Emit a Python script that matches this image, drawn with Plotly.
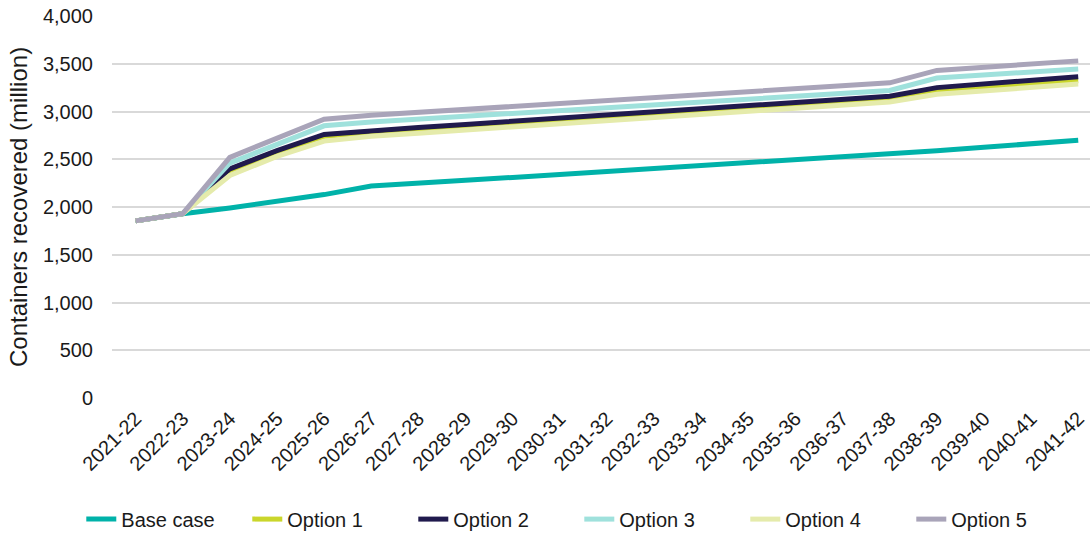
import plotly.graph_objects as go

# Financial years on the category axis
years = ["2021-22", "2022-23", "2023-24", "2024-25", "2025-26", "2026-27", "2027-28",
         "2028-29", "2029-30", "2030-31", "2031-32", "2032-33", "2033-34", "2034-35",
         "2035-36", "2036-37", "2037-38", "2038-39", "2039-40", "2040-41", "2041-42"]

# Containers recovered (million) for each scenario
base_case = [1855, 1930, 1990, 2060, 2130, 2220, 2245, 2280, 2310, 2340, 2370,
             2400, 2430, 2460, 2495, 2530, 2560, 2590, 2625, 2660, 2700]
option_1 = [1855, 1930, 2370, 2570, 2740, 2780, 2813, 2845, 2878, 2911, 2944,
            2976, 3009, 3042, 3075, 3107, 3140, 3225, 3260, 3290, 3322]
option_2 = [1855, 1930, 2400, 2590, 2760, 2800, 2833, 2865, 2898, 2931, 2964,
            2996, 3029, 3062, 3095, 3127, 3160, 3250, 3290, 3325, 3365]
option_3 = [1855, 1930, 2460, 2650, 2850, 2890, 2920, 2950, 2980, 3010, 3040,
            3070, 3100, 3130, 3160, 3190, 3220, 3350, 3380, 3410, 3445]
option_4 = [1855, 1930, 2330, 2530, 2690, 2740, 2773, 2805, 2838, 2871, 2904,
            2936, 2969, 3002, 3035, 3067, 3100, 3180, 3215, 3250, 3288]
option_5 = [1855, 1930, 2520, 2720, 2920, 2960, 2990, 3020, 3055, 3085, 3115,
            3145, 3175, 3205, 3235, 3265, 3300, 3430, 3465, 3495, 3530]

series = [
    ("Base case", base_case, "#00b2a9"),
    ("Option 1", option_1, "#cad62b"),
    ("Option 2", option_2, "#201a4d"),
    ("Option 3", option_3, "#9fe1dc"),
    ("Option 4", option_4, "#e5ebab"),
    ("Option 5", option_5, "#a9a4b9"),
]

FONT = "Liberation Sans, Arial, sans-serif"
TEXT = "#1a1a1a"

fig = go.Figure()
for name, values, colour in series:
    fig.add_trace(go.Scatter(
        x=years, y=values, name=name, mode="lines",
        line=dict(color=colour, width=5),
    ))

fig.update_layout(
    width=1090, height=535,
    margin=dict(l=112, r=0, t=16, b=137, autoexpand=False),
    paper_bgcolor="white", plot_bgcolor="white",
    font=dict(family=FONT, size=20, color=TEXT),
    showlegend=True,
    legend=dict(
        orientation="h", x=-0.0314, xanchor="left", y=-0.317, yanchor="middle",
        entrywidth=121, entrywidthmode="pixels",
        font=dict(family=FONT, size=20, color=TEXT),
        bgcolor="rgba(0,0,0,0)",
    ),
    xaxis=dict(
        type="category", range=[-0.5, 20.25], automargin=False,
        tickangle=-45, showgrid=False, showline=False, zeroline=False,
        ticks="", ticklabelstandoff=4,
        tickfont=dict(family=FONT, size=20, color=TEXT),
    ),
    yaxis=dict(
        range=[0, 4000], tickvals=[0, 500, 1000, 1500, 2000, 2500, 3000, 3500, 4000],
        tickformat=",", showgrid=True, gridcolor="#d9d9d9", gridwidth=1.5,
        zeroline=False, showline=False, ticks="", ticklabelstandoff=18,
        automargin=False,
        tickfont=dict(family=FONT, size=20, color=TEXT),
    ),
    annotations=[dict(
        text="Containers recovered (million)", textangle=-90,
        xref="paper", yref="paper", x=(18 - 112) / 978, y=0.5,
        xanchor="center", yanchor="middle", showarrow=False,
        font=dict(family=FONT, size=24, color=TEXT),
    )],
)

fig.write_html("out.html")
